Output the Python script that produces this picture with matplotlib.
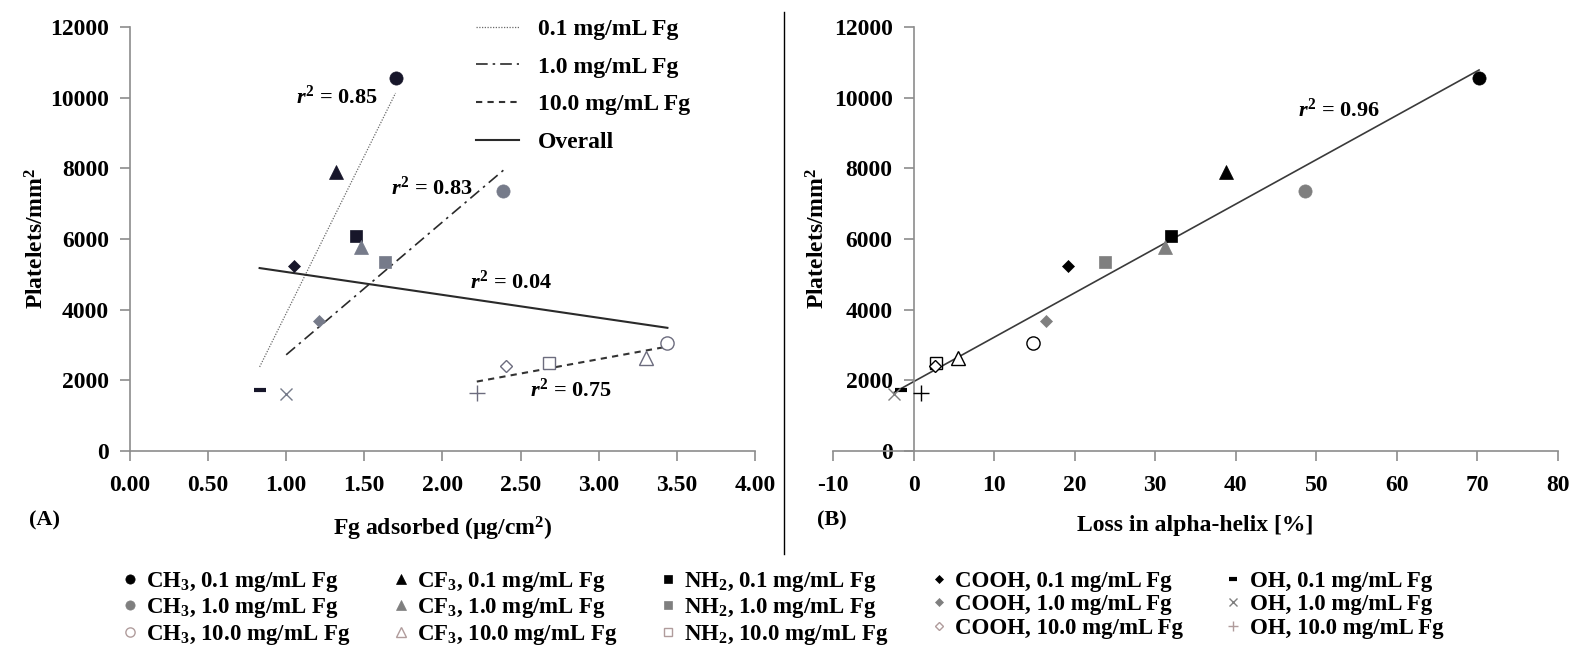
import numpy as np
import matplotlib.pyplot as plt
from matplotlib.lines import Line2D

plt.rcParams['font.family'] = 'Liberation Serif'
plt.rcParams['font.weight'] = 'bold'
plt.rcParams['axes.labelweight'] = 'bold'
plt.rcParams['axes.unicode_minus'] = False
plt.rcParams['mathtext.fontset'] = 'custom'
plt.rcParams['mathtext.rm'] = 'Liberation Serif:bold'
plt.rcParams['mathtext.it'] = 'Liberation Serif:italic:bold'
plt.rcParams['mathtext.bf'] = 'Liberation Serif:bold'

# surfaces: CH3, CF3, NH2, COOH, OH
surfaces = ['CH$_3$', 'CF$_3$', 'NH$_2$', 'COOH', 'OH']
concs = ['0.1', '1.0', '10.0']

# Fg adsorbed (ug/cm2), per concentration
fg_c01 = [1.70, 1.32, 1.45, 1.05, 0.83]
fg_c1 = [2.39, 1.48, 1.63, 1.21, 1.00]
fg_c10 = [3.44, 3.30, 2.68, 2.41, 2.22]

# loss in alpha-helix (%)
helix_c01 = [70.2, 38.8, 32.0, 19.2, -1.6]
helix_c1 = [48.6, 31.2, 23.8, 16.5, -2.4]
helix_c10 = [14.8, 5.5, 2.8, 2.7, 0.95]

# platelets / mm2
plt_c01 = [10550, 7900, 6080, 5240, 1725]
plt_c1 = [7370, 5780, 5340, 3690, 1610]
plt_c10 = [3045, 2620, 2500, 2400, 1650]

fg = [fg_c01, fg_c1, fg_c10]
helix = [helix_c01, helix_c1, helix_c10]
platelets = [plt_c01, plt_c1, plt_c10]

r2_a = ['0.85', '0.83', '0.75']
r2_overall_a = '0.04'
r2_b = '0.96'


def marker_style(j, i, cols, scale=1.0):
    # j = surface index, i = concentration index
    if j == 4:
        m = ['_', 'x', '+'][i]
        ms = [9, 9, 11][i]
        mew = [3, 1.0, 1.0][i]
        return dict(marker=m, ms=ms * scale, mew=mew, color=cols[i], mec=cols[i])
    m = ['o', '^', 's', 'D'][j]
    ms = [9.5, 9.5, 9, 6.5][j] * scale
    if i == 2:
        return dict(marker=m, ms=ms, mfc='white', mec=cols[2], mew=1.0)
    return dict(marker=m, ms=ms, mfc=cols[i], mec=cols[i], mew=0.5)


def style_axis(ax):
    for s in ['top', 'right']:
        ax.spines[s].set_visible(False)
    for s in ['left', 'bottom']:
        ax.spines[s].set_color('#8c8c8c')
        ax.spines[s].set_linewidth(1.2)
    ax.tick_params(colors='#8c8c8c', width=1.2, length=7, labelsize=17,
                   labelcolor='black')
    ax.tick_params(axis='x', pad=10)
    ax.tick_params(axis='y', pad=8)
    ax.set_ylim(0, 12000)
    ax.set_yticks(np.arange(0, 12001, 2000))


fig = plt.figure(figsize=(15.75, 6.5), dpi=100)
ax_a = fig.add_axes([0.0825, 0.3062, 0.3968, 0.6523])
ax_b = fig.add_axes([0.5289, 0.3062, 0.4603, 0.6523])

# ---- panel A ----
cols_a = ['#17162a', '#767b8a', '#6c6c7e']
for i in range(3):
    for j in range(5):
        ax_a.plot(fg[i][j], platelets[i][j], ls='none', zorder=3,
                  **marker_style(j, i, cols_a))

line_styles = [
    dict(color='#6a6a6a', lw=0.9, ls=(0, (1, 1.2))),
    dict(color='#2a2a2a', lw=1.2, ls=(0, (7, 3, 1.5, 3))),
    dict(color='#333333', lw=1.5, ls=(0, (3, 2.5))),
]
trend_handles = []
for i in range(3):
    x = np.array(fg[i])
    y = np.array(platelets[i])
    k, b = np.polyfit(x, y, 1)
    xs = np.array([x.min(), x.max()])
    h, = ax_a.plot(xs, k * xs + b, zorder=2, **line_styles[i])
    trend_handles.append(h)

x_all = np.concatenate(fg)
y_all = np.concatenate(platelets)
k, b = np.polyfit(x_all, y_all, 1)
xs = np.array([x_all.min(), x_all.max()])
h, = ax_a.plot(xs, k * xs + b, color='#2a2a2a', lw=1.5, zorder=2)
trend_handles.append(h)

ax_a.legend(trend_handles,
            ['0.1 mg/mL Fg', '1.0 mg/mL Fg', '10.0 mg/mL Fg', 'Overall'],
            loc='upper left', bbox_to_anchor=(0.554, 1.02), frameon=False,
            fontsize=17, handlelength=1.8, handletextpad=0.8,
            labelspacing=0.68, borderpad=0, borderaxespad=0)

ax_a.text(1.325, 10020, r'$\it{r}^2$ = ' + r2_a[0], fontsize=16, ha='center', va='center')
ax_a.text(1.93, 7430, r'$\it{r}^2$ = ' + r2_a[1], fontsize=16, ha='center', va='center')
ax_a.text(2.44, 4790, r'$\it{r}^2$ = ' + r2_overall_a, fontsize=16, ha='center', va='center')
ax_a.text(2.82, 1730, r'$\it{r}^2$ = ' + r2_a[2], fontsize=16, ha='center', va='center')

style_axis(ax_a)
ax_a.set_xlim(0, 4)
ax_a.set_xticks(np.arange(0, 4.01, 0.5))
ax_a.set_xticklabels(['%.2f' % v for v in np.arange(0, 4.01, 0.5)])
ax_a.set_xlabel('Fg adsorbed (\u00b5g/cm$^2$)', fontsize=17)
ax_a.set_ylabel('Platelets/mm$^2$', fontsize=17)
ax_a.xaxis.set_label_coords(0.5, -0.15)
ax_a.yaxis.set_label_coords(-0.13, 0.5)

# ---- panel B ----
cols_b = ['black', '#7f7f7f', 'black']
for i in range(3):
    for j in range(5):
        ax_b.plot(helix[i][j], platelets[i][j], ls='none', zorder=3,
                  **marker_style(j, i, cols_b))

hx = np.concatenate(helix)
k, b = np.polyfit(hx, y_all, 1)
xs = np.array([hx.min(), hx.max()])
ax_b.plot(xs, k * xs + b, color='#3a3a3a', lw=1.2, zorder=2)
ax_b.text(52.75, 9640, r'$\it{r}^2$ = ' + r2_b, fontsize=16, ha='center', va='center')

style_axis(ax_b)
ax_b.spines['left'].set_position(('data', 0))
ax_b.set_xlim(-10, 80)
ax_b.set_xticks(np.arange(-10, 81, 10))
ax_b.set_xlabel('Loss in alpha-helix [%]', fontsize=17)
ax_b.set_ylabel('Platelets/mm$^2$', fontsize=17)
ax_b.xaxis.set_label_coords(0.5, -0.15)
ax_b.yaxis.set_label_coords(-0.005, 0.5)

fig.text(0.028, 0.2, '(A)', fontsize=16, ha='center', va='center')
fig.text(0.528, 0.2, '(B)', fontsize=16, ha='center', va='center')

# separator between panels
fig.add_artist(Line2D([0.4978, 0.4978], [0.148, 0.982], color='black', lw=1,
                      transform=fig.transFigure))

# ---- shared legend ----
cols_leg = ['black', '#7f7f7f', '#b09c9c']
handles = []
labels = []
for j in range(5):
    for i in range(3):
        handles.append(Line2D([], [], ls='none', **marker_style(j, i, cols_leg, 0.7)))
        labels.append('%s, %s mg/mL Fg' % (surfaces[j], concs[i]))
fig.legend(handles, labels, ncol=5, loc='center', bbox_to_anchor=(0.497, 0.064),
           frameon=False, fontsize=16.5, handlelength=0.7, handletextpad=0.35,
           columnspacing=1.85, labelspacing=0.1, borderpad=0)

fig.savefig('out.png', dpi=100)
